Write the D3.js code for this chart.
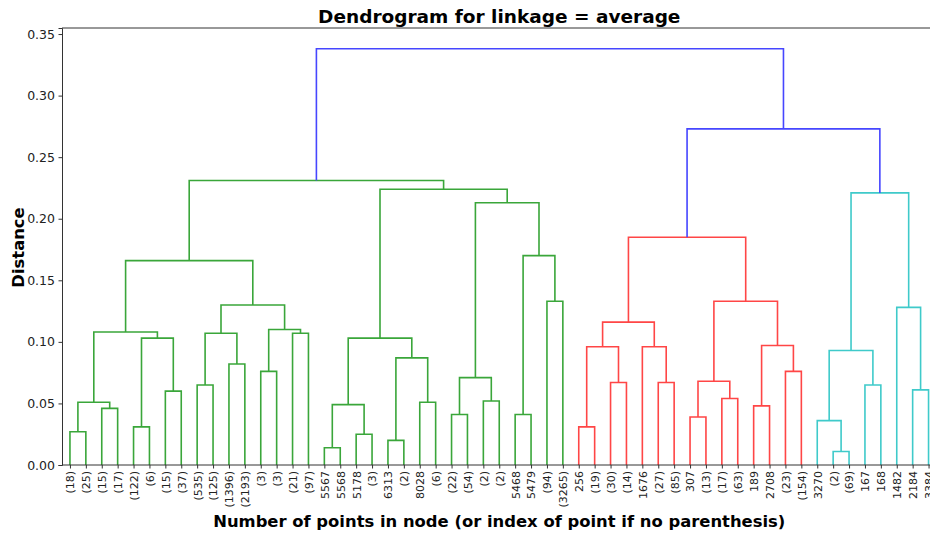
<!DOCTYPE html>
<html>
<head>
<meta charset="utf-8">
<script src="https://cdn.jsdelivr.net/npm/d3@7"></script>
<style>
  html, body { margin: 0; padding: 0; background: #fff; }
  svg { display: block; font-family: "DejaVu Sans", sans-serif; }
</style>
</head>
<body>
<svg id="chart" width="930" height="533"></svg>
<script>
// Leaf labels in dendrogram order: cluster sizes in parentheses, raw point indices otherwise
const leafLabels = [
  "(18)", "(25)", "(15)", "(17)", "(122)", "(6)", "(15)", "(37)", "(535)", "(125)",
  "(1396)", "(2193)", "(3)", "(3)", "(21)", "(97)", "5567", "5568", "5178", "(3)",
  "6313", "(2)", "8028", "(6)", "(22)", "(54)", "(2)", "(2)", "5468", "5479",
  "(94)", "(3265)", "256", "(19)", "(30)", "(14)", "1676", "(27)", "(85)", "307",
  "(13)", "(17)", "(63)", "189", "2708", "(23)", "(154)", "3270", "(2)", "(69)",
  "167", "168", "1482", "2184", "3384"
];

// Linkage rows [left, right]; ids < leafLabels.length are leaves, larger ids point to earlier rows
const mergePairs = [
  [0, 1], [2, 3], [55, 56], [4, 5], [6, 7], [58, 59], [57, 60], [8, 9], [10, 11], [62, 63],
  [12, 13], [14, 15], [65, 66], [64, 67], [61, 68], [16, 17], [18, 19], [70, 71], [20, 21], [22, 23],
  [73, 74], [72, 75], [24, 25], [26, 27], [77, 78], [28, 29], [30, 31], [80, 81], [79, 82], [76, 83],
  [69, 84], [32, 33], [34, 35], [86, 87], [37, 38], [36, 89], [88, 90], [39, 40], [41, 42], [92, 93],
  [43, 44], [45, 46], [95, 96], [94, 97], [91, 98], [48, 49], [47, 100], [50, 51], [101, 102], [53, 54],
  [52, 104], [103, 105], [99, 106], [85, 107]
];

// Merge distances, one per linkage row
const mergeHeights = [
  0.027, 0.046, 0.051, 0.031, 0.060, 0.103, 0.108, 0.065, 0.082, 0.107,
  0.076, 0.107, 0.110, 0.130, 0.166, 0.014, 0.025, 0.049, 0.020, 0.051,
  0.087, 0.103, 0.041, 0.052, 0.071, 0.041, 0.133, 0.170, 0.213, 0.224,
  0.231, 0.031, 0.067, 0.096, 0.067, 0.096, 0.116, 0.039, 0.054, 0.068,
  0.048, 0.076, 0.097, 0.133, 0.185, 0.011, 0.036, 0.065, 0.093, 0.061,
  0.128, 0.221, 0.273, 0.338
];

const yTicks = [0, 0.05, 0.10, 0.15, 0.20, 0.25, 0.30, 0.35];

// Cluster palette below the colour threshold, and the colour above it
const clusterColors = ["#3aa63a", "#ff4646", "#3fcaca"];
const aboveColor = "#4646ff";

const svg = d3.select("#chart");
const nLeaves = leafLabels.length;
const maxH = d3.max(mergeHeights);
const threshold = 0.7 * maxH;

const plotLeft = 62, plotTop = 28, plotBottom = 465;
const plotRight = plotLeft + 10 * nLeaves * 1.59;

const x = d3.scaleLinear().domain([0, 10 * nLeaves]).range([plotLeft, plotRight]);
const y = d3.scaleLinear().domain([0, maxH * 1.05]).range([plotBottom, plotTop]);

// Positions of every node: leaves at 5, 15, 25, ...; merges centred over their children
const nodeX = [], nodeY = [];
leafLabels.forEach((_, i) => { nodeX[i] = 5 + 10 * i; nodeY[i] = 0; });
mergePairs.forEach(([a, b], k) => {
  nodeX[nLeaves + k] = (nodeX[a] + nodeX[b]) / 2;
  nodeY[nLeaves + k] = mergeHeights[k];
});

// Colour assignment: each top-most subtree below the threshold gets the next palette colour
const linkColor = new Array(mergePairs.length).fill(aboveColor);
let colorIdx = 0;
function paint(id, col) {
  if (id < nLeaves) return;
  const k = id - nLeaves;
  linkColor[k] = col;
  paint(mergePairs[k][0], col);
  paint(mergePairs[k][1], col);
}
function assign(id) {
  if (id < nLeaves) return;
  const k = id - nLeaves;
  if (mergeHeights[k] <= threshold) {
    paint(id, clusterColors[colorIdx % clusterColors.length]);
    colorIdx++;
  } else {
    assign(mergePairs[k][0]);
    assign(mergePairs[k][1]);
  }
}
assign(nLeaves + mergePairs.length - 1);

// Clip to the plot area (the right part of the axes runs past the page edge)
svg.append("defs").append("clipPath").attr("id", "plotclip")
  .append("rect").attr("x", plotLeft).attr("y", plotTop - 2)
  .attr("width", plotRight - plotLeft).attr("height", plotBottom - plotTop + 4);

// U-shaped links
const links = svg.append("g").attr("clip-path", "url(#plotclip)");
mergePairs.forEach(([a, b], k) => {
  const h = mergeHeights[k];
  const pts = [[nodeX[a], nodeY[a]], [nodeX[a], h], [nodeX[b], h], [nodeX[b], nodeY[b]]];
  links.append("path")
    .attr("d", d3.line().x(d => x(d[0])).y(d => y(d[1]))(pts))
    .attr("fill", "none")
    .attr("stroke", linkColor[k])
    .attr("stroke-width", 1.6);
});

// Frame (spines)
const spine = "#333";
svg.append("line").attr("x1", plotLeft).attr("x2", plotRight).attr("y1", plotTop).attr("y2", plotTop)
  .attr("stroke", spine).attr("stroke-width", 1);
svg.append("line").attr("x1", plotLeft).attr("x2", plotRight).attr("y1", plotBottom).attr("y2", plotBottom)
  .attr("stroke", spine).attr("stroke-width", 1);
svg.append("line").attr("x1", plotRight).attr("x2", plotRight).attr("y1", plotTop).attr("y2", plotBottom)
  .attr("stroke", spine).attr("stroke-width", 1);

// Y axis
const yAxis = svg.append("g").attr("transform", `translate(${plotLeft},0)`)
  .call(d3.axisLeft(y).tickValues(yTicks).tickFormat(d3.format(".2f")).tickSize(3.5).tickPadding(3.5));
yAxis.select(".domain").attr("stroke", spine);
yAxis.selectAll(".tick line").attr("stroke", spine);
yAxis.selectAll(".tick text").attr("font-size", 12.5).attr("fill", "#222")
  .attr("font-family", "DejaVu Sans");

// X axis: one tick per leaf, labels rotated
const xAxis = svg.append("g").attr("transform", `translate(0,${plotBottom})`)
  .call(d3.axisBottom(x).tickValues(d3.range(nLeaves).map(i => 5 + 10 * i))
    .tickFormat((d, i) => leafLabels[i]).tickSize(3.5));
xAxis.select(".domain").remove();
xAxis.selectAll(".tick line").attr("stroke", spine);
xAxis.selectAll(".tick text")
  .attr("font-size", 11).attr("fill", "#222").attr("font-family", "DejaVu Sans")
  .attr("transform", "rotate(-90)")
  .attr("text-anchor", "end")
  .attr("x", -6).attr("y", 0).attr("dy", "0.35em");

// Titles
const cx = (plotLeft + plotRight) / 2;
svg.append("text").attr("x", cx).attr("y", 23).attr("text-anchor", "middle")
  .attr("font-size", 18.5).attr("font-weight", "bold").attr("fill", "#000")
  .text("Dendrogram for linkage = average");
svg.append("text").attr("x", cx).attr("y", 527).attr("text-anchor", "middle")
  .attr("font-size", 16.4).attr("font-weight", "bold").attr("fill", "#000")
  .text("Number of points in node (or index of point if no parenthesis)");
svg.append("text").attr("transform", `translate(24,${(plotTop + plotBottom) / 2 + 1}) rotate(-90)`)
  .attr("text-anchor", "middle")
  .attr("font-size", 16.4).attr("font-weight", "bold").attr("fill", "#000")
  .text("Distance");
</script>
</body>
</html>
